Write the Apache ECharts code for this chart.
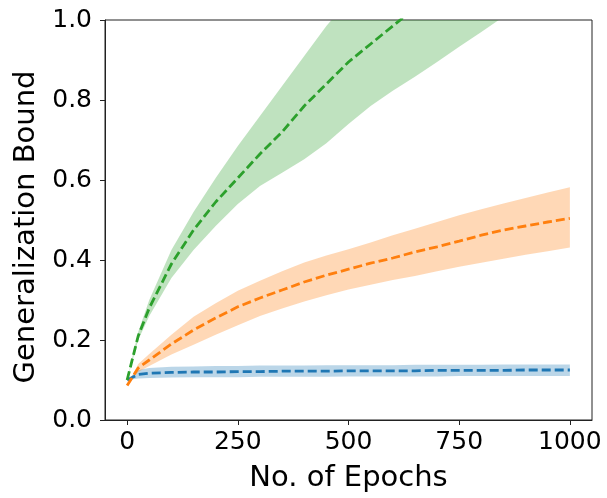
<!DOCTYPE html>
<html>
<head>
<meta charset="utf-8">
<script src="https://cdn.jsdelivr.net/npm/echarts@6/dist/echarts.min.js"></script>
<style>html,body{margin:0;padding:0;background:#fff;}#c{width:607px;height:498px;}</style>
</head>
<body>
<div id="c"></div>
<script>
const epochs = [0, 25, 50, 100, 150, 200, 250, 300, 350, 400, 450, 500, 550, 600, 650, 700, 750, 800, 850, 900, 950, 1000];
const xTicks = [0, 250, 500, 750, 1000];
const yTicks = [0, 0.2, 0.4, 0.6, 0.8, 1.0];

const blueMean  = [0.100, 0.114, 0.117, 0.119, 0.120, 0.120, 0.121, 0.121, 0.122, 0.122, 0.122, 0.123, 0.123, 0.123, 0.123, 0.124, 0.124, 0.124, 0.124, 0.125, 0.125, 0.125];
const blueUpper = [0.100, 0.125, 0.130, 0.133, 0.134, 0.135, 0.135, 0.136, 0.136, 0.136, 0.137, 0.137, 0.137, 0.137, 0.138, 0.138, 0.138, 0.138, 0.139, 0.139, 0.139, 0.139];
const blueLower = [0.100, 0.104, 0.105, 0.106, 0.107, 0.107, 0.107, 0.108, 0.108, 0.108, 0.108, 0.109, 0.109, 0.109, 0.109, 0.109, 0.110, 0.110, 0.110, 0.110, 0.110, 0.110];

const orangeMean  = [0.086, 0.130, 0.150, 0.190, 0.225, 0.255, 0.283, 0.305, 0.325, 0.345, 0.362, 0.377, 0.392, 0.405, 0.420, 0.433, 0.447, 0.462, 0.475, 0.485, 0.495, 0.504];
const orangeUpper = [0.086, 0.140, 0.165, 0.213, 0.258, 0.292, 0.323, 0.348, 0.372, 0.394, 0.411, 0.427, 0.444, 0.462, 0.478, 0.495, 0.512, 0.527, 0.541, 0.555, 0.569, 0.582];
const orangeLower = [0.086, 0.120, 0.135, 0.164, 0.188, 0.213, 0.237, 0.260, 0.279, 0.296, 0.312, 0.326, 0.338, 0.350, 0.360, 0.372, 0.383, 0.393, 0.403, 0.413, 0.422, 0.431];

const greenMean  = [0.100, 0.210, 0.280, 0.390, 0.475, 0.545, 0.605, 0.665, 0.720, 0.785, 0.840, 0.895, 0.940, 0.985, 1.030, 1.075, 1.120, 1.160, 1.200, 1.240, 1.280, 1.320];
const greenUpper = [0.100, 0.220, 0.300, 0.425, 0.520, 0.605, 0.685, 0.760, 0.835, 0.910, 0.985, 1.050, 1.110, 1.170, 1.220, 1.270, 1.320, 1.370, 1.420, 1.460, 1.500, 1.540];
const greenLower = [0.100, 0.200, 0.260, 0.355, 0.425, 0.485, 0.540, 0.585, 0.618, 0.652, 0.692, 0.740, 0.785, 0.823, 0.858, 0.895, 0.933, 0.970, 1.008, 1.045, 1.080, 1.115];

const FONT = 'DejaVu Sans';
const pair = (arr) => epochs.map((e, i) => [e, arr[i]]);

function band(name, upper, lower, color) {
  return {
    name: name + 'Band', type: 'custom', clip: true, silent: true, z: 1,
    data: epochs.map((e, i) => [e, lower[i], upper[i]]),
    encode: { x: 0, y: [1, 2] },
    renderItem: function (params, api) {
      if (params.dataIndex !== 0) return null;
      const pts = [];
      for (let i = 0; i < epochs.length; i++) pts.push(api.coord([epochs[i], upper[i]]));
      for (let i = epochs.length - 1; i >= 0; i--) pts.push(api.coord([epochs[i], lower[i]]));
      const cs = params.coordSys;
      return {
        type: 'polygon',
        shape: { points: pts },
        clipPath: { type: 'rect', shape: { x: cs.x, y: cs.y, width: cs.width, height: cs.height } },
        style: { fill: color, opacity: 0.3 }
      };
    }
  };
}
function meanLine(name, arr, color) {
  return { name: name, type: 'line', data: pair(arr), symbol: 'none', smooth: false, clip: true,
           lineStyle: { color: color, width: 2.8, type: [9, 4] }, z: 3 };
}

const chart = echarts.init(document.getElementById('c'), null, { renderer: 'canvas' });
chart.setOption({
  animation: false,
  grid: { left: 105, right: 15, top: 20, bottom: 71, show: true, borderColor: '#222', borderWidth: 1, backgroundColor: 'transparent' },
  xAxis: {
    type: 'value', min: -50, max: 1050,
    name: 'No. of Epochs', nameLocation: 'middle', nameGap: 44,
    nameTextStyle: { fontFamily: FONT, fontSize: 29, color: '#000' },
    axisLine: { show: true, onZero: false, lineStyle: { color: '#222', width: 1 } },
    axisTick: { show: true, length: 5, lineStyle: { color: '#222' }, customValues: xTicks },
    axisLabel: { fontFamily: FONT, fontSize: 25, color: '#000', margin: 10, customValues: xTicks,
                 formatter: (v) => String(v) },
    splitLine: { show: false }
  },
  yAxis: {
    type: 'value', min: 0, max: 1.0, interval: 0.2,
    name: 'Generalization Bound', nameLocation: 'middle', nameGap: 62,
    nameTextStyle: { fontFamily: FONT, fontSize: 29, color: '#000', padding: [0, 14, 0, 0] },
    axisLine: { show: true, onZero: false, lineStyle: { color: '#222', width: 1 } },
    axisTick: { show: true, length: 5, lineStyle: { color: '#222' }, customValues: yTicks },
    axisLabel: { fontFamily: FONT, fontSize: 25, color: '#000', margin: 13, customValues: yTicks,
                 formatter: (v) => v.toFixed(1) },
    splitLine: { show: false }
  },
  series: [
    band('blue', blueUpper, blueLower, '#1f77b4'),
    meanLine('blue', blueMean, '#1f77b4'),
    band('orange', orangeUpper, orangeLower, '#ff7f0e'),
    meanLine('orange', orangeMean, '#ff7f0e'),
    band('green', greenUpper, greenLower, '#2ca02c'),
    meanLine('green', greenMean, '#2ca02c')
  ]
});
</script>
</body>
</html>
